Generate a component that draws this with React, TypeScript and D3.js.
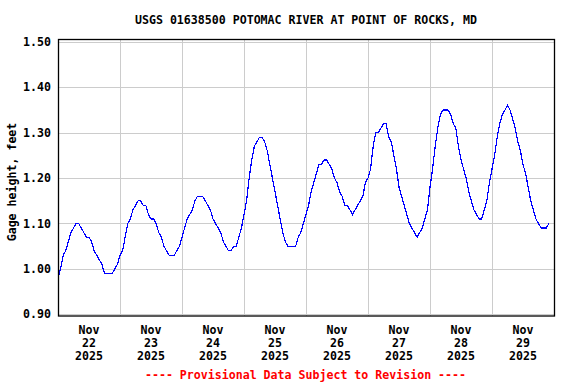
import React, { useEffect, useRef } from 'react';
import * as d3 from 'd3';

// hourly gage height readings (feet), starting at 00:00 of each day
const nov22 = [0.98, 1.00, 1.03, 1.04, 1.06, 1.08, 1.09, 1.10, 1.10, 1.09, 1.08, 1.07, 1.07, 1.06, 1.04, 1.03, 1.02, 1.01, 0.99, 0.99, 0.99, 0.99, 1.00, 1.01];
const nov23 = [1.03, 1.04, 1.07, 1.10, 1.11, 1.13, 1.14, 1.15, 1.15, 1.14, 1.14, 1.12, 1.11, 1.11, 1.10, 1.08, 1.07, 1.05, 1.04, 1.03, 1.03, 1.03, 1.04, 1.05];
const nov24 = [1.07, 1.09, 1.11, 1.12, 1.13, 1.15, 1.16, 1.16, 1.16, 1.15, 1.14, 1.13, 1.11, 1.10, 1.09, 1.08, 1.06, 1.05, 1.04, 1.04, 1.05, 1.05, 1.07, 1.09];
const nov25 = [1.12, 1.15, 1.20, 1.24, 1.27, 1.28, 1.29, 1.29, 1.28, 1.26, 1.23, 1.20, 1.17, 1.14, 1.11, 1.08, 1.06, 1.05, 1.05, 1.05, 1.05, 1.07, 1.08, 1.10];
const nov26 = [1.12, 1.14, 1.17, 1.19, 1.21, 1.23, 1.23, 1.24, 1.24, 1.23, 1.22, 1.20, 1.19, 1.17, 1.16, 1.14, 1.14, 1.13, 1.12, 1.13, 1.14, 1.15, 1.16, 1.19];
const nov27 = [1.20, 1.22, 1.27, 1.30, 1.30, 1.31, 1.32, 1.32, 1.29, 1.28, 1.25, 1.22, 1.18, 1.16, 1.14, 1.12, 1.10, 1.09, 1.08, 1.07, 1.08, 1.09, 1.11, 1.13];
const nov28 = [1.18, 1.22, 1.27, 1.31, 1.34, 1.35, 1.35, 1.35, 1.34, 1.32, 1.31, 1.27, 1.24, 1.22, 1.20, 1.17, 1.15, 1.13, 1.12, 1.11, 1.11, 1.13, 1.15, 1.19];
const nov29 = [1.22, 1.25, 1.29, 1.32, 1.34, 1.35, 1.36, 1.35, 1.33, 1.31, 1.28, 1.26, 1.23, 1.21, 1.18, 1.15, 1.13, 1.11, 1.10, 1.09, 1.09, 1.09, 1.10];

const dayLabels = ['22', '23', '24', '25', '26', '27', '28', '29'];
const yTicks = [0.9, 1.0, 1.1, 1.2, 1.3, 1.4, 1.5];

const title = 'USGS 01638500 POTOMAC RIVER AT POINT OF ROCKS, MD';
const yTitle = 'Gage height, feet';
const footer = '---- Provisional Data Subject to Revision ----';

const W = 576;
const H = 384;
const FONT = '"DejaVu Sans Mono", "Liberation Mono", monospace';

const App: React.FC = () => {
  const svgRef = useRef<SVGSVGElement>(null);

  useEffect(() => {
    if (!svgRef.current) return;
    const svg = d3.select(svgRef.current);
    svg.selectAll('*').remove();

    const start = new Date(2025, 10, 22);
    const end = new Date(2025, 10, 30);
    const HOUR = 3600 * 1000;

    const values = [...nov22, ...nov23, ...nov24, ...nov25, ...nov26, ...nov27, ...nov28, ...nov29];
    const data = values.map((v, i) => ({ t: new Date(start.getTime() + i * HOUR), v }));

    const x = d3.scaleTime().domain([start, end]).range([58, 554]);
    const y = d3.scaleLinear().domain([0.9, 1.5]).range([314.3, 41.9]);

    // grid
    const days = d3.timeDay.range(d3.timeDay.offset(start, 1), end);
    svg.append('g')
      .selectAll('line')
      .data(days)
      .enter()
      .append('line')
      .attr('x1', d => Math.round(x(d)) + 0.5)
      .attr('x2', d => Math.round(x(d)) + 0.5)
      .attr('y1', 40)
      .attr('y2', 316)
      .attr('stroke', '#cccccc')
      .attr('stroke-width', 1);

    svg.append('g')
      .selectAll('line')
      .data(yTicks)
      .enter()
      .append('line')
      .attr('x1', 58)
      .attr('x2', 554)
      .attr('y1', d => Math.round(y(d)) + 0.5)
      .attr('y2', d => Math.round(y(d)) + 0.5)
      .attr('stroke', '#cccccc')
      .attr('stroke-width', 1);

    // series
    const line = d3.line<{ t: Date; v: number }>()
      .x(d => x(d.t))
      .y(d => y(d.v));

    svg.append('path')
      .datum(data)
      .attr('fill', 'none')
      .attr('stroke', '#0000ff')
      .attr('stroke-width', 1.2)
      .attr('shape-rendering', 'crispEdges')
      .attr('d', line);

    // frame
    svg.append('rect')
      .attr('x', 58.5)
      .attr('y', 39.5)
      .attr('width', 496)
      .attr('height', 276.5)
      .attr('fill', 'none')
      .attr('stroke', '#000000')
      .attr('stroke-width', 1.3);

    // y tick labels
    svg.append('g')
      .selectAll('text')
      .data(yTicks)
      .enter()
      .append('text')
      .attr('x', 51)
      .attr('y', d => y(d))
      .attr('dy', '0.36em')
      .attr('text-anchor', 'end')
      .attr('font-family', FONT)
      .attr('font-weight', 'bold')
      .attr('font-size', 11.6)
      .text(d => d.toFixed(2));

    // x tick labels at noon of each day
    const xl = svg.append('g')
      .selectAll('g')
      .data(dayLabels)
      .enter()
      .append('g')
      .attr('transform', (d, i) => `translate(${x(new Date(start.getTime() + (i * 24 + 12) * HOUR))},0)`);
    [['Nov', 330], [null, 343], ['2025', 355.7]].forEach(([txt, yy]) => {
      xl.append('text')
        .attr('y', yy as number)
        .attr('dy', '0.36em')
        .attr('text-anchor', 'middle')
        .attr('font-family', FONT)
        .attr('font-weight', 'bold')
        .attr('font-size', 11.6)
        .text(d => (txt === null ? d : (txt as string)));
    });

    svg.append('text')
      .attr('x', 306)
      .attr('y', 20)
      .attr('dy', '0.36em')
      .attr('text-anchor', 'middle')
      .attr('font-family', FONT)
      .attr('font-weight', 'bold')
      .attr('font-size', 11.6)
      .text(title);

    svg.append('text')
      .attr('transform', 'translate(11.5,182) rotate(-90)')
      .attr('dy', '0.36em')
      .attr('text-anchor', 'middle')
      .attr('font-family', FONT)
      .attr('font-weight', 'bold')
      .attr('font-size', 11.6)
      .text(yTitle);

    svg.append('text')
      .attr('x', 305.5)
      .attr('y', 375)
      .attr('dy', '0.36em')
      .attr('text-anchor', 'middle')
      .attr('font-family', FONT)
      .attr('font-weight', 'bold')
      .attr('font-size', 11.6)
      .attr('fill', '#ff0000')
      .text(footer);
  }, []);

  return (
    <svg
      ref={svgRef}
      width={W}
      height={H}
      style={{ position: 'absolute', left: 0, top: 0, background: '#ffffff' }}
    />
  );
};

export default App;
